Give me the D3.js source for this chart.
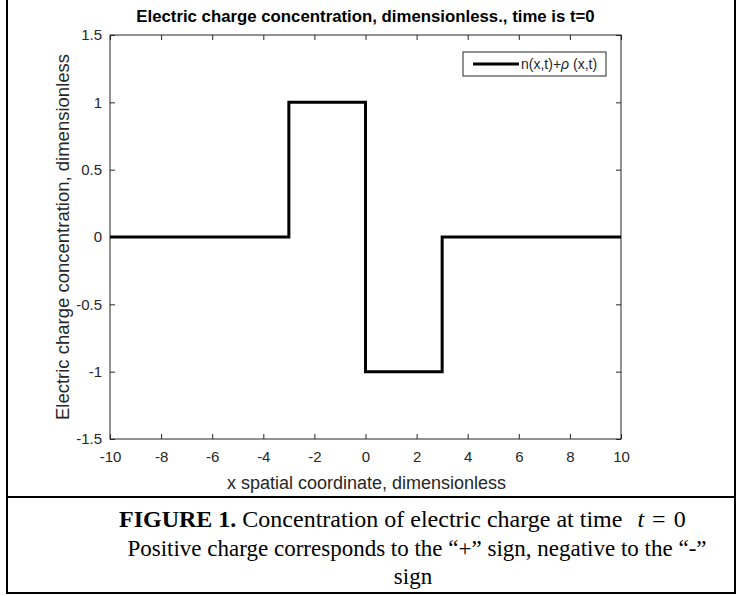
<!DOCTYPE html>
<html>
<head>
<meta charset="utf-8">
<script src="https://cdn.jsdelivr.net/npm/d3@7"></script>
<style>
  html, body { margin: 0; padding: 0; background: #fff; }
  svg { display: block; }
</style>
</head>
<body>
<svg id="chart" width="737" height="596"></svg>
<script>
// Charge concentration profile at t = 0 (piecewise constant, drawn as steps)
const breakpoints = [-10, -3, 0, 3, 10];
const chargeLevels = [0, 1, -1, 0, 0];

const xTicks = [-10, -8, -6, -4, -2, 0, 2, 4, 6, 8, 10];
const yTicks = [-1.5, -1, -0.5, 0, 0.5, 1, 1.5];

const titleText = "Electric charge concentration, dimensionless., time is t=0";
const xLabelText = "x spatial coordinate, dimensionless";
const yLabelText = "Electric charge concentration, dimensionless";

const svg = d3.select("#chart");
const plot = { left: 110, right: 621, top: 35, bottom: 439 };
const axisColor = "#262626";
const sans = "'Liberation Sans', Arial, sans-serif";
const serif = "'Liberation Serif', 'Times New Roman', serif";

const x = d3.scaleLinear().domain([-10, 10]).range([plot.left, plot.right]);
const y = d3.scaleLinear().domain([-1.5, 1.5]).range([plot.bottom, plot.top]);

// plot box
svg.append("rect")
  .attr("x", plot.left).attr("y", plot.top)
  .attr("width", plot.right - plot.left).attr("height", plot.bottom - plot.top)
  .attr("fill", "#fff").attr("stroke", axisColor).attr("stroke-width", 1);

// axes with inward ticks on all four sides
const tickLen = 5;
const styleAxis = g => {
  g.select(".domain").remove();
  g.selectAll(".tick line").attr("stroke", axisColor);
  g.selectAll(".tick text").attr("fill", axisColor)
    .style("font-family", sans).style("font-size", "15px");
};

svg.append("g").attr("transform", `translate(0,${plot.bottom})`)
  .call(d3.axisBottom(x).tickValues(xTicks).tickSizeInner(-tickLen).tickSizeOuter(0)
    .tickPadding(12).tickFormat(d => String(d)))
  .call(styleAxis);
svg.append("g").attr("transform", `translate(0,${plot.top})`)
  .call(d3.axisTop(x).tickValues(xTicks).tickSizeInner(-tickLen).tickSizeOuter(0).tickFormat(""))
  .call(styleAxis);
svg.append("g").attr("transform", `translate(${plot.left},0)`)
  .call(d3.axisLeft(y).tickValues(yTicks).tickSizeInner(-tickLen).tickSizeOuter(0)
    .tickPadding(8).tickFormat(d => String(d)))
  .call(styleAxis);
svg.append("g").attr("transform", `translate(${plot.right},0)`)
  .call(d3.axisRight(y).tickValues(yTicks).tickSizeInner(-tickLen).tickSizeOuter(0).tickFormat(""))
  .call(styleAxis);

// step curve
const pts = breakpoints.map((b, i) => [b, chargeLevels[i]]);
const line = d3.line().x(d => x(d[0])).y(d => y(d[1])).curve(d3.curveStepAfter);
svg.append("path").datum(pts)
  .attr("d", line)
  .attr("fill", "none").attr("stroke", "#000").attr("stroke-width", 3)
  .attr("stroke-linejoin", "miter");

// title and axis labels
svg.append("text").attr("x", (plot.left + plot.right) / 2).attr("y", 22)
  .attr("text-anchor", "middle").style("font-family", sans)
  .style("font-size", "16.8px").style("font-weight", "bold").attr("fill", "#000")
  .text(titleText);
svg.append("text").attr("x", (plot.left + plot.right) / 2 + 1).attr("y", 489)
  .attr("text-anchor", "middle").style("font-family", sans)
  .style("font-size", "18px").attr("fill", axisColor)
  .text(xLabelText);
svg.append("text")
  .attr("transform", `translate(69,${(plot.top + plot.bottom) / 2}) rotate(-90)`)
  .attr("text-anchor", "middle").style("font-family", sans)
  .style("font-size", "18.5px").attr("fill", axisColor)
  .text(yLabelText);

// legend
const lg = svg.append("g");
lg.append("rect").attr("x", 463).attr("y", 52).attr("width", 143).attr("height", 24)
  .attr("fill", "#fff").attr("stroke", axisColor).attr("stroke-width", 1);
lg.append("line").attr("x1", 473).attr("x2", 519).attr("y1", 64).attr("y2", 64)
  .attr("stroke", "#000").attr("stroke-width", 3);
const lt = lg.append("text").attr("x", 521).attr("y", 69)
  .style("font-family", sans).style("font-size", "14px").attr("fill", axisColor);
lt.append("tspan").text("n(x,t)+");
lt.append("tspan").style("font-style", "italic").text("\u03C1");
lt.append("tspan").text(" (x,t)");

// figure frame and caption
const frame = svg.append("g").attr("stroke", "#000").attr("stroke-width", 2);
frame.append("line").attr("x1", 7).attr("x2", 7).attr("y1", 0).attr("y2", 594);
frame.append("line").attr("x1", 735).attr("x2", 735).attr("y1", 0).attr("y2", 594);
frame.append("line").attr("x1", 6).attr("x2", 736).attr("y1", 497).attr("y2", 497);
frame.append("line").attr("x1", 6).attr("x2", 736).attr("y1", 593).attr("y2", 593);

const c1 = svg.append("text").attr("x", 119).attr("y", 527)
  .style("font-family", serif).style("font-size", "24px").attr("fill", "#000");
c1.append("tspan").style("font-weight", "bold").text("FIGURE 1.");
c1.append("tspan").text(" Concentration of electric charge at time");
c1.append("tspan").attr("dx", 15).style("font-style", "italic").text("t");
c1.append("tspan").attr("dx", 8).text("=");
c1.append("tspan").attr("dx", 8).text("0");
svg.append("text").attr("x", 417).attr("y", 556).attr("text-anchor", "middle")
  .style("font-family", serif).style("font-size", "23px").attr("fill", "#000")
  .text("Positive charge corresponds to the \u201C+\u201D sign, negative to the \u201C-\u201D");
svg.append("text").attr("x", 413).attr("y", 584).attr("text-anchor", "middle")
  .style("font-family", serif).style("font-size", "23px").attr("fill", "#000")
  .text("sign");
</script>
</body>
</html>
